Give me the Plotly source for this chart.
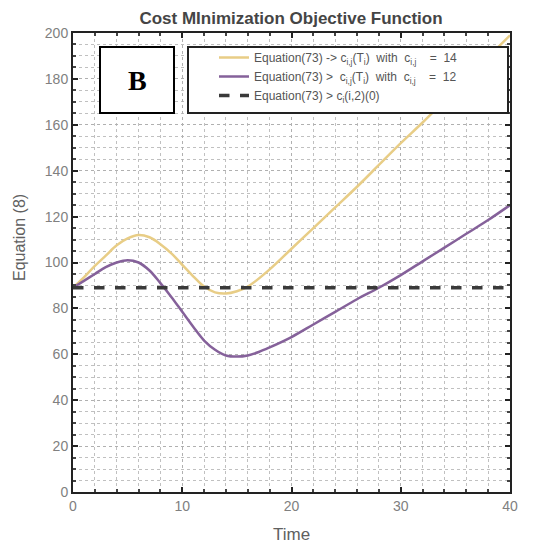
import plotly.graph_objects as go

# Data
t_yellow = [0, 1, 2, 3, 4, 5, 6, 7, 8, 9, 10, 11, 12, 13, 14, 15, 16, 18, 20, 22, 24, 26, 28, 30, 32, 34, 36, 38, 40]
y_yellow = [89, 93.5, 98.5, 103, 107.5, 110.5, 112, 111, 108, 104, 99, 94, 89.5, 87, 86.5, 87.5, 89.5, 97, 106, 115, 124, 133, 142.5, 152, 161, 170.5, 180, 189.5, 199]

t_purple = [0, 1, 2, 3, 4, 5, 6, 7, 8, 9, 10, 11, 12, 13, 14, 15, 16, 17, 18, 20, 22, 24, 26, 28, 30, 32, 34, 36, 38, 40]
y_purple = [89, 92, 95, 98, 100, 101, 100, 96.5, 91, 85, 78.5, 72, 66, 62, 59.5, 59, 59.5, 61, 63, 67.5, 73, 78.5, 84, 89, 94.5, 100.5, 106.5, 112.5, 118.5, 125]

t_ref = [0, 40]
y_ref = [89, 89]

sp = "&nbsp;"
names = [
    "Equation(73)" + sp + "->" + sp + "c<sub>i,j</sub>(T<sub>i</sub>)" + sp * 2 + "with" + sp * 2
    + "c<sub>i,j</sub>" + sp * 4 + "=" + sp * 2 + "14",
    "Equation(73)" + sp + ">" + sp + sp + "c<sub>i,j</sub>(T<sub>i</sub>)" + sp * 2 + "with" + sp * 2
    + "c<sub>i,j</sub>" + sp * 4 + "=" + sp * 2 + "12",
    "Equation(73)" + sp + ">" + sp + "c<sub>i</sub>(i,2)(0)",
]

x_ticks = [0, 10, 20, 30, 40]
y_ticks = [0, 20, 40, 60, 80, 100, 120, 140, 160, 180, 200]
x_title = "Time"
y_title = "Equation (8)"

FONT = "Liberation Sans, Arial"

fig = go.Figure()
fig.add_trace(go.Scatter(x=t_yellow, y=y_yellow, mode="lines", name=names[0],
                         line=dict(color="#E8CD86", width=2.5, shape="spline")))
fig.add_trace(go.Scatter(x=t_purple, y=y_purple, mode="lines", name=names[1],
                         line=dict(color="#85619A", width=2.5, shape="spline")))
fig.add_trace(go.Scatter(x=t_ref, y=y_ref, mode="lines", name=names[2],
                         line=dict(color="#3a3a3a", width=3.5, dash="dash")))

axis_common = dict(
    showline=True, linecolor="#222", linewidth=2, mirror="allticks",
    ticks="inside", ticklen=5, tickcolor="#222", tickwidth=1.5,
    tickfont=dict(family=FONT, size=14, color="#808080"),
    showgrid=True, gridcolor="#b0b0b0", gridwidth=1, griddash="dot",
    zeroline=False, automargin=False,
)

fig.update_xaxes(range=[0, 40], tickvals=x_ticks,
                 minor=dict(dtick=2, showgrid=True, gridcolor="#c0c0c0", griddash="dot",
                            ticks="inside", ticklen=3, tickcolor="#444"),
                 **axis_common)
fig.update_yaxes(range=[0, 200], tickvals=y_ticks,
                 minor=dict(dtick=5, showgrid=True, gridcolor="#c0c0c0", griddash="dot",
                            ticks="inside", ticklen=3, tickcolor="#444"),
                 **axis_common)

# Page body adds an 8px offset; positions below are in screenshot pixels
OFF = 8
W, H = 539, 540
PL, PR, PT, PB = 73, 510, 33, 492
PW, PH = PR - PL, PB - PT


def px_x(p):
    return (p - PL) / PW


def px_y(p):
    return 1 - (p - PT) / PH


fig.update_layout(
    width=W, height=H,
    margin=dict(l=PL - OFF, r=W - (PR - OFF), t=PT - OFF, b=H - (PB - OFF)),
    paper_bgcolor="white", plot_bgcolor="white",
    title=dict(text="<b>Cost MInimization Objective Function</b>", x=px_x(291), xref="paper",
               xanchor="center", y=1 - 10 / H, yanchor="middle",
               font=dict(family=FONT, size=17, color="#454545")),
    legend=dict(x=px_x(214), y=px_y(43), xanchor="left", yanchor="top",
                bgcolor="rgba(0,0,0,0)", borderwidth=0,
                font=dict(family=FONT, size=12, color="#555"),
                tracegroupgap=0, itemwidth=30),
    showlegend=True,
)

# Axis titles
fig.add_annotation(xref="paper", yref="paper", x=px_x(291), y=px_y(534),
                   xanchor="center", yanchor="middle", text=x_title, showarrow=False,
                   font=dict(family=FONT, size=17, color="#606060"))
fig.add_annotation(xref="paper", yref="paper", x=px_x(19), y=px_y(238),
                   xanchor="center", yanchor="middle", text=y_title, showarrow=False,
                   textangle=-90, font=dict(family=FONT, size=16, color="#606060"))

# Legend frame
fig.add_shape(type="rect", xref="paper", yref="paper",
              x0=px_x(188), x1=px_x(508), y0=px_y(113), y1=px_y(47),
              line=dict(color="#222", width=2), fillcolor="white", layer="above")

# Panel label "B"
fig.add_shape(type="rect", xref="paper", yref="paper",
              x0=px_x(100), x1=px_x(174), y0=px_y(113), y1=px_y(47),
              line=dict(color="black", width=2), fillcolor="white", layer="above")
fig.add_annotation(xref="paper", yref="paper", x=px_x(137), y=px_y(80),
                   xanchor="center", yanchor="middle",
                   text="<b>B</b>", showarrow=False,
                   font=dict(family="Liberation Serif, Times New Roman", size=28, color="black"))

fig.write_html("out.html")
